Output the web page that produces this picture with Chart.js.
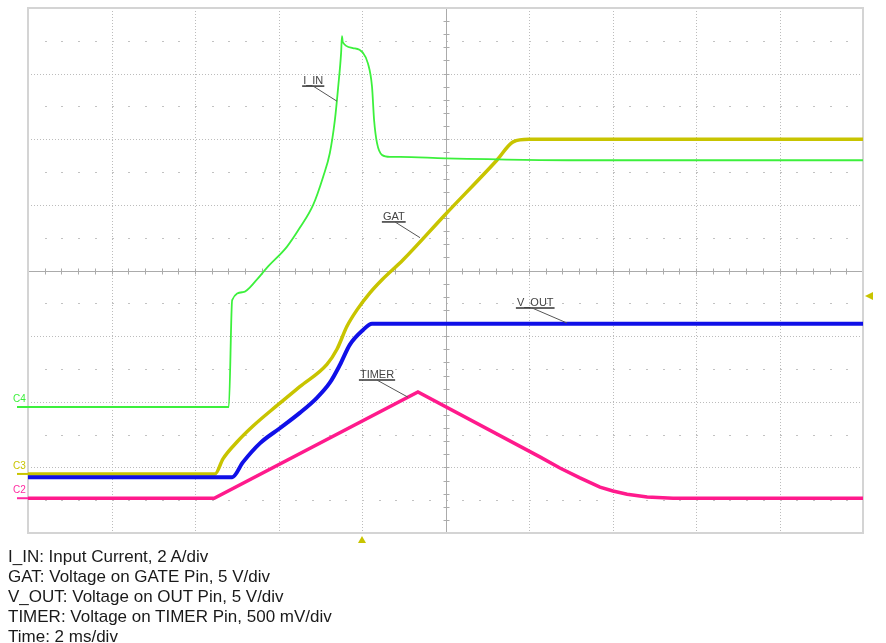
<!DOCTYPE html>
<html>
<head>
<meta charset="utf-8">
<script src="https://cdn.jsdelivr.net/npm/chart.js@4.4.1/dist/chart.umd.min.js"></script>
<style>
  body { margin: 0; background: #fff; width: 886px; height: 643px; overflow: hidden; }
  #scope { position: absolute; left: 0; top: 0; }
  .caption {
    position: absolute; left: 8px; top: 547px;
    font-family: "Liberation Sans", Arial, sans-serif;
    font-size: 17px; line-height: 20px; color: #1a1a1a;
  }
</style>
</head>
<body>
<canvas id="scope" width="886" height="548"></canvas>
<div class="caption">
  <div>I_IN: Input Current, 2 A/div</div>
  <div>GAT: Voltage on GATE Pin, 5 V/div</div>
  <div>V_OUT: Voltage on OUT Pin, 5 V/div</div>
  <div>TIMER: Voltage on TIMER Pin, 500 mV/div</div>
  <div>Time: 2 ms/div</div>
</div>
<script>
// time in ms (2 ms/div), amplitude in divisions from screen centre
const iInTime = [0, 4.81, 4.89, 5.15, 5.48, 5.72, 6.20, 6.51, 6.83, 7.07, 7.23, 7.35, 7.43, 7.50, 7.52, 7.54, 7.78, 8.02, 8.14, 8.24, 8.29, 8.36, 8.48, 8.67, 8.91, 9.99, 13.22, 20];
const iInDiv = [-2.08, -2.08, -0.45, -0.33, -0.14, 0.04, 0.36, 0.65, 1.00, 1.43, 1.79, 2.29, 2.80, 3.32, 3.57, 3.48, 3.39, 3.32, 3.16, 2.80, 2.29, 1.94, 1.76, 1.73, 1.73, 1.71, 1.68, 1.68];

const gateTime = [0, 4.48, 4.67, 5.01, 5.39, 5.96, 6.51, 7.16, 7.40, 7.64, 7.88, 8.19, 8.48, 8.98, 9.99, 11.23, 11.62, 12.0, 20];
const gateDiv = [-3.10, -3.10, -2.87, -2.61, -2.37, -2.06, -1.77, -1.43, -1.20, -0.85, -0.60, -0.34, -0.14, 0.16, 0.85, 1.68, 1.96, 2.0, 2.0];

const voutTime = [0, 4.89, 5.15, 5.56, 6.04, 6.51, 6.92, 7.23, 7.47, 7.71, 8.02, 8.24, 20];
const voutDiv = [-3.15, -3.15, -2.92, -2.63, -2.40, -2.17, -1.94, -1.71, -1.44, -1.13, -0.91, -0.81, -0.81];

const timerTime = [0, 4.46, 9.34, 12.26, 12.74, 13.22, 13.70, 14.01, 14.35, 14.83, 15.45, 20];
const timerDiv = [-3.47, -3.47, -1.85, -2.84, -3.01, -3.16, -3.30, -3.36, -3.41, -3.45, -3.47, -3.47];

const traceNames = ["I_IN", "GAT", "V_OUT", "TIMER"];
const channelNames = ["C4", "C3", "C2"];

const toPoints = (t, v) => t.map((x, i) => ({ x: x, y: v[i] }));

const line = (ctx, x1, y1, x2, y2) => {
  ctx.beginPath();
  ctx.moveTo(x1, y1);
  ctx.lineTo(x2, y2);
  ctx.stroke();
};

// oscilloscope graticule
const scopeGrid = {
  id: "scopeGrid",
  beforeDatasetsDraw(chart) {
    const { ctx, chartArea: a, scales: { x, y } } = chart;
    ctx.save();
    ctx.lineWidth = 1;
    ctx.strokeStyle = "#bcbcbc";
    ctx.setLineDash([1, 2]);
    for (let i = 1; i < 10; i++) {
      if (i === 5) continue;
      const px = Math.round(x.getPixelForValue(i * 2)) + 0.5;
      line(ctx, px, a.top, px, a.bottom);
    }
    for (let d = -3; d <= 3; d++) {
      if (d === 0) continue;
      const py = Math.round(y.getPixelForValue(d)) + 0.5;
      line(ctx, a.left, py, a.right, py);
    }
    ctx.setLineDash([]);

    // sparse dots on half divisions
    ctx.fillStyle = "#c2c2c2";
    for (let d = -4; d < 4; d++) {
      const py = Math.round(y.getPixelForValue(d + 0.5));
      for (let k = 1; k < 50; k++) {
        const px = Math.round(x.getPixelForValue(k * 0.4));
        ctx.fillRect(px, py, 2, 1);
      }
    }

    // centre cross with minor ticks
    ctx.strokeStyle = "#ababab";
    const cx = Math.round(x.getPixelForValue(10)) + 0.5;
    const cy = Math.round(y.getPixelForValue(0)) + 0.5;
    line(ctx, cx, a.top, cx, a.bottom);
    line(ctx, a.left, cy, a.right, cy);
    for (let k = 1; k < 50; k++) {
      const px = Math.round(x.getPixelForValue(k * 0.4)) + 0.5;
      line(ctx, px, cy - 3, px, cy + 3);
    }
    for (let k = 1; k < 40; k++) {
      const py = Math.round(y.getPixelForValue(-4 + k * 0.2)) + 0.5;
      line(ctx, cx - 3, py, cx + 3, py);
    }

    ctx.strokeStyle = "#d4d4d4";
    ctx.lineWidth = 2;
    ctx.strokeRect(a.left, a.top, a.right - a.left, a.bottom - a.top);
    ctx.restore();
  }
};

// trace labels, channel markers and trigger arrows
const scopeMarks = {
  id: "scopeMarks",
  afterDatasetsDraw(chart) {
    const { ctx, chartArea: a, scales: { x, y } } = chart;
    ctx.save();
    ctx.font = "11px 'Liberation Sans', Arial, sans-serif";
    ctx.textBaseline = "alphabetic";

    // [text x, text y, leader start x, underline y, leader end x, leader end y]
    const spots = [
      [6.59, 2.84, 6.83, 2.81, 7.40, 2.58],
      [8.50, 0.77, 8.79, 0.74, 9.39, 0.50],
      [11.71, -0.54, 12.07, -0.57, 12.91, -0.80],
      [7.95, -1.64, 8.36, -1.67, 9.10, -1.93]
    ];
    traceNames.forEach((name, i) => {
      const s = spots[i];
      const tx = x.getPixelForValue(s[0]);
      const ty = y.getPixelForValue(s[1]);
      const uy = y.getPixelForValue(s[3]);
      const w = ctx.measureText(name).width;
      ctx.fillStyle = "#444";
      ctx.fillText(name, tx, ty);
      ctx.strokeStyle = "#333";
      ctx.lineWidth = 1.5;
      line(ctx, tx - 1, uy, tx + w + 1, uy);
      ctx.strokeStyle = "#555";
      ctx.lineWidth = 1;
      line(ctx, x.getPixelForValue(s[2]), uy, x.getPixelForValue(s[4]), y.getPixelForValue(s[5]));
    });

    ctx.font = "10px 'Liberation Sans', Arial, sans-serif";
    const chanLevel = [iInDiv[0], gateDiv[0], timerDiv[0]];
    const chanColor = ["#3cf03c", "#c8c400", "#ff2aa0"];
    channelNames.forEach((name, i) => {
      const py = y.getPixelForValue(chanLevel[i]);
      ctx.strokeStyle = chanColor[i];
      ctx.lineWidth = 2;
      line(ctx, 17, py, a.left, py);
      ctx.fillStyle = chanColor[i];
      ctx.fillText(name, 13, py - 5);
    });

    // trigger position (bottom) and trigger level (right)
    ctx.fillStyle = "#c8c400";
    const trigX = x.getPixelForValue(8);
    ctx.beginPath();
    ctx.moveTo(trigX, a.bottom + 3);
    ctx.lineTo(trigX - 4, a.bottom + 10);
    ctx.lineTo(trigX + 4, a.bottom + 10);
    ctx.closePath();
    ctx.fill();
    const trigY = y.getPixelForValue(-0.39);
    ctx.beginPath();
    ctx.moveTo(a.right + 2, trigY);
    ctx.lineTo(a.right + 10, trigY - 4);
    ctx.lineTo(a.right + 10, trigY + 4);
    ctx.closePath();
    ctx.fill();
    ctx.restore();
  }
};

const ctx = document.getElementById("scope").getContext("2d");
new Chart(ctx, {
  type: "line",
  data: {
    datasets: [
      {
        label: traceNames[0],
        data: toPoints(iInTime, iInDiv),
        borderColor: "#3cf03c",
        borderWidth: 1.8,
        cubicInterpolationMode: "monotone",
        order: 0
      },
      {
        label: traceNames[2],
        data: toPoints(voutTime, voutDiv),
        borderColor: "#1010e8",
        borderWidth: 4,
        cubicInterpolationMode: "monotone",
        order: 1
      },
      {
        label: traceNames[3],
        data: toPoints(timerTime, timerDiv),
        borderColor: "#ff1a8c",
        borderWidth: 3.5,
        tension: 0,
        order: 2
      },
      {
        label: traceNames[1],
        data: toPoints(gateTime, gateDiv),
        borderColor: "#c8c400",
        borderWidth: 3.5,
        cubicInterpolationMode: "monotone",
        order: 3
      }
    ]
  },
  options: {
    responsive: false,
    animation: false,
    layout: { padding: { left: 28, top: 8, right: 23, bottom: 15 } },
    elements: { point: { radius: 0 } },
    plugins: {
      legend: { display: false },
      tooltip: { enabled: false }
    },
    scales: {
      x: { type: "linear", min: 0, max: 20, display: false },
      y: { type: "linear", min: -4, max: 4, display: false }
    }
  },
  plugins: [scopeGrid, scopeMarks]
});
</script>
</body>
</html>
